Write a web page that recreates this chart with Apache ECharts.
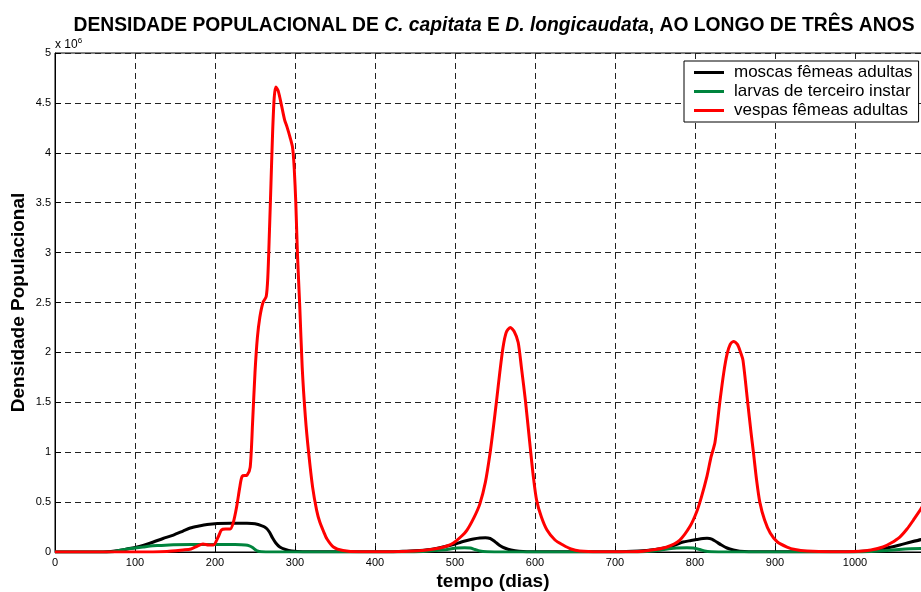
<!DOCTYPE html>
<html>
<head>
<meta charset="utf-8">
<script src="https://cdn.jsdelivr.net/npm/echarts@6/dist/echarts.min.js"></script>
<style>
  html, body { margin: 0; padding: 0; background: #fff; }
  #chart { width: 921px; height: 592px; }
</style>
</head>
<body>
<div id="chart"></div>
<script>
// Population densities (units of 10^6 individuals) over three years, by day.
const seriesNames = ['moscas fêmeas adultas', 'larvas de terceiro instar', 'vespas fêmeas adultas'];
const seriesColors = ['#000000', '#00843d', '#ff0000'];

const moscasDays = [0, 60, 70, 80, 90, 100, 110, 123, 135, 148, 160, 169, 180, 190, 203, 220, 240, 250, 258, 264, 268, 272, 276, 281, 288, 296, 310,
  420, 430, 450, 469, 485, 498, 508, 515, 523, 531, 538, 544, 548, 552, 557, 562, 570, 580, 600,
  700, 730, 750, 765, 775, 785, 795, 802, 810, 815, 821, 827, 833, 840, 848, 856, 880,
  990, 1010, 1028, 1040, 1056, 1070, 1083, 1095];
const moscasValues = [0, 0, 0.005, 0.015, 0.03, 0.045, 0.065, 0.1, 0.135, 0.17, 0.21, 0.24, 0.26, 0.275, 0.285, 0.288, 0.287, 0.282, 0.265, 0.24, 0.2, 0.14, 0.09, 0.05, 0.025, 0.01, 0.002,
  0.002, 0.005, 0.012, 0.025, 0.05, 0.075, 0.1, 0.115, 0.13, 0.14, 0.142, 0.135, 0.115, 0.09, 0.06, 0.04, 0.02, 0.008, 0.002,
  0.002, 0.01, 0.025, 0.045, 0.07, 0.1, 0.115, 0.125, 0.135, 0.137, 0.13, 0.1, 0.07, 0.04, 0.02, 0.008, 0.002,
  0.002, 0.008, 0.02, 0.04, 0.07, 0.1, 0.125, 0.14];

const larvasDays = [0, 70, 80, 90, 100, 110, 119, 130, 148, 170, 200, 225, 238, 243, 247, 250, 253, 258, 270,
  440, 460, 475, 490, 502, 512, 519, 525, 531, 540, 560,
  720, 740, 756, 770, 777, 790, 798, 806, 812, 820, 840,
  1000, 1020, 1040, 1055, 1069, 1083, 1095];
const larvasValues = [0, 0, 0.015, 0.03, 0.04, 0.05, 0.06, 0.065, 0.072, 0.075, 0.075, 0.074, 0.07, 0.062, 0.045, 0.025, 0.01, 0.003, 0,
  0, 0.005, 0.015, 0.025, 0.04, 0.042, 0.04, 0.025, 0.01, 0.003, 0,
  0, 0.005, 0.018, 0.035, 0.04, 0.042, 0.04, 0.025, 0.01, 0.003, 0,
  0, 0.005, 0.015, 0.025, 0.032, 0.035, 0.035];

const vespasDays = [0, 100, 140, 160, 170, 178, 185, 192, 198, 204, 208, 213, 219, 223, 227, 231, 234, 240, 244, 247, 250, 253, 256, 260, 264, 266, 268, 270, 272, 274, 276, 279, 283, 287, 290, 294, 297, 299, 301, 303, 306, 309, 313, 317, 322, 327, 331, 336, 340, 348, 360, 380,
  420, 450, 470, 481, 490, 498, 507, 515, 524, 531, 538, 544, 548, 552, 556, 560, 564, 569, 574, 579, 583, 588, 594, 598, 602, 608, 615, 625, 635, 645, 656, 680,
  720, 735, 750, 765, 781, 794, 802, 808, 815, 820, 825, 831, 836, 840, 844, 848, 853, 857, 860, 866, 870, 873, 877, 881, 887, 894, 903, 915, 925, 940, 970,
  1006, 1020, 1035, 1045, 1056, 1065, 1073, 1083, 1090, 1095];
const vespasValues = [0, 0, 0.005, 0.02, 0.03, 0.06, 0.08, 0.07, 0.07, 0.15, 0.22, 0.23, 0.23, 0.3, 0.45, 0.65, 0.76, 0.77, 0.85, 1.3, 1.8, 2.15, 2.35, 2.5, 2.56, 2.75, 3.2, 3.7, 4.2, 4.55, 4.66, 4.62, 4.48, 4.33, 4.26, 4.15, 4.05, 3.85, 3.5, 3.0, 2.45, 1.85, 1.35, 1.0, 0.65, 0.42, 0.3, 0.2, 0.13, 0.05, 0.015, 0.003,
  0.003, 0.01, 0.025, 0.04, 0.06, 0.09, 0.15, 0.22, 0.35, 0.48, 0.7, 1.0, 1.25, 1.52, 1.8, 2.05, 2.2, 2.25, 2.21, 2.1, 1.85, 1.52, 1.05, 0.75, 0.52, 0.35, 0.22, 0.12, 0.07, 0.03, 0.01, 0.003,
  0.003, 0.008, 0.025, 0.05, 0.12, 0.26, 0.4, 0.55, 0.76, 0.95, 1.1, 1.5, 1.8, 1.98, 2.08, 2.11, 2.08, 2.0, 1.92, 1.49, 1.2, 1.0, 0.72, 0.5, 0.32, 0.19, 0.1, 0.05, 0.025, 0.01, 0.003,
  0.008, 0.02, 0.05, 0.09, 0.15, 0.23, 0.32, 0.44, 0.55, 0.62];

const xTicks = { min: 0, max: 1095, interval: 100 };
const yTicks = { min: 0, max: 5, interval: 0.5 };

function pairs(days, values) {
  return days.map((d, i) => [d, values[i]]);
}

const FONT = '"Liberation Sans", Arial, Helvetica, sans-serif';
const gridLeft = 55, gridTop = 53, gridBottom = 40, gridRight = -10;

const chart = echarts.init(document.getElementById('chart'), null, { renderer: 'canvas' });

const dashed = { show: true, lineStyle: { color: '#222', width: 1, type: [6, 4] } };

chart.setOption({
  animation: false,
  backgroundColor: '#fff',
  title: {
    text: '{b|DENSIDADE POPULACIONAL DE }{i|C. capitata}{b| E }{i|D. longicaudata}{b|, AO LONGO DE TRÊS ANOS}',
    left: 489,
    top: 11,
    textAlign: 'center',
    textStyle: {
      rich: {
        b: { fontFamily: FONT, fontWeight: 'bold', fontSize: 19.3, color: '#000' },
        i: { fontFamily: FONT, fontWeight: 'bold', fontStyle: 'italic', fontSize: 19.3, color: '#000' }
      }
    }
  },
  graphic: [{
    type: 'text',
    left: 55,
    top: 37,
    style: {
      text: '{a|x 10}{s|6}',
      rich: {
        a: { fontFamily: FONT, fontSize: 12, fill: '#000', verticalAlign: 'bottom' },
        s: { fontFamily: FONT, fontSize: 8, fill: '#000', verticalAlign: 'top', padding: [0, 0, 6, 0] }
      }
    }
  }],
  legend: {
    orient: 'vertical',
    left: 684,
    top: 61,
    width: 234,
    padding: [2, 6, 2, 10],
    itemGap: 0,
    itemWidth: 30,
    itemHeight: 3,
    icon: 'rect',
    backgroundColor: '#fff',
    borderColor: '#000',
    borderWidth: 1,
    borderRadius: 0,
    textStyle: { fontFamily: FONT, fontSize: 17, color: '#000', lineHeight: 19, padding: [0, 0, 0, 5] },
    data: seriesNames
  },
  grid: {
    left: gridLeft, top: gridTop, bottom: gridBottom, right: gridRight,
    containLabel: false,
    outerBoundsMode: 'none',
    show: true, borderColor: '#000', borderWidth: 1, backgroundColor: 'transparent'
  },
  xAxis: {
    type: 'value',
    min: xTicks.min, max: xTicks.max, interval: xTicks.interval,
    name: 'tempo (dias)',
    nameLocation: 'middle',
    nameGap: 20,
    nameMoveOverlap: false,
    nameTextStyle: { fontFamily: FONT, fontWeight: 'bold', fontSize: 19, color: '#000' },
    axisLine: { show: true, lineStyle: { color: '#000', width: 1 } },
    axisTick: { show: true, inside: true, length: 6, lineStyle: { color: '#000' } },
    axisLabel: {
      fontFamily: FONT, fontSize: 11, color: '#000', margin: 5, showMaxLabel: false,
      formatter: (v) => String(v)
    },
    splitLine: dashed
  },
  yAxis: {
    type: 'value',
    min: yTicks.min, max: yTicks.max, interval: yTicks.interval,
    name: 'Densidade Populacional',
    nameLocation: 'middle',
    nameGap: 27,
    nameMoveOverlap: false,
    nameRotate: 90,
    nameTextStyle: { fontFamily: FONT, fontWeight: 'bold', fontSize: 19, color: '#000' },
    axisLine: { show: true, lineStyle: { color: '#000', width: 1 } },
    axisTick: { show: true, inside: true, length: 6, lineStyle: { color: '#000' } },
    axisLabel: { fontFamily: FONT, fontSize: 11, color: '#000', margin: 4, formatter: (v) => String(v) },
    splitLine: dashed
  },
  series: [
    { name: seriesNames[0], data: pairs(moscasDays, moscasValues) },
    { name: seriesNames[1], data: pairs(larvasDays, larvasValues) },
    { name: seriesNames[2], data: pairs(vespasDays, vespasValues) }
  ].map((s, i) => Object.assign(s, {
    type: 'line',
    showSymbol: false,
    symbol: 'none',
    smooth: 0.25,
    color: seriesColors[i],
    lineStyle: { color: seriesColors[i], width: 3 },
    z: 2 + i
  }))
});
</script>
</body>
</html>
